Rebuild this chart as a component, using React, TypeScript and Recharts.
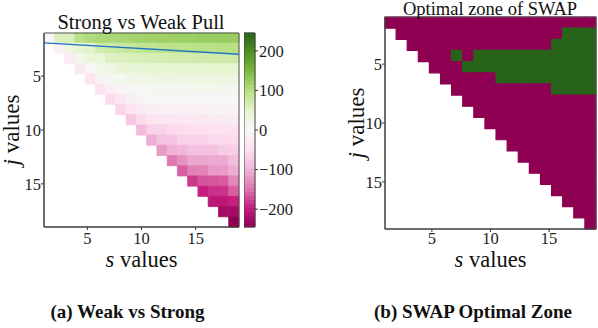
import React from 'react';
import { ComposedChart, XAxis, YAxis, ReferenceArea, Line, Scatter, Label } from 'recharts';

// ---------- data ----------
const sTicks = [5, 10, 15];
const jTicks = [5, 10, 15];
const gridMin = 1;
const gridMax = 19;
const gridSize = 19;

// Strong vs Weak Pull: row r holds the values of columns r..18 (upper triangle)
const pullRows: number[][] = [
  [0, 60, 62, 95, 105, 108, 110, 112, 114, 116, 118, 120, 120, 122, 122, 124, 124, 125, 125],
  [-10, 30, 48, 52, 72, 76, 80, 84, 88, 90, 92, 94, 95, 96, 97, 98, 98, 99],
  [-25, 15, 38, 42, 58, 60, 62, 64, 66, 68, 70, 71, 72, 73, 74, 74, 75],
  [-35, 0, 18, 22, 40, 42, 44, 45, 46, 47, 48, 48, 49, 49, 50, 50],
  [-40, -8, 6, 10, 22, 24, 25, 26, 27, 28, 28, 29, 29, 30, 30],
  [-45, -20, -6, 4, 6, 8, 9, 10, 10, 11, 12, 12, 13, 14],
  [-55, -32, -15, -6, -5, -4, -4, -3, -3, -2, -2, -2, -1],
  [-62, -45, -28, -20, -18, -16, -15, -14, -13, -12, -12, -11],
  [-78, -55, -38, -36, -34, -33, -32, -30, -28, -27, -26],
  [-93, -66, -64, -55, -54, -50, -48, -46, -45, -44],
  [-105, -84, -82, -66, -65, -64, -58, -57, -56],
  [-120, -100, -98, -86, -85, -84, -72, -70],
  [-145, -125, -110, -110, -108, -108, -90],
  [-160, -140, -138, -120, -118, -105],
  [-180, -165, -164, -162, -135],
  [-195, -185, -184, -160],
  [-205, -204, -195],
  [-225, -224],
  [-245],
];
const pullLimit = 245;
const colorbarTicks = [-200, -100, 0, 100, 200];
const fitLine = [
  { s: 1, j: 1.92 },
  { s: 19, j: 2.97 },
];

// Optimal zone of SWAP: row r holds columns r..18, '1' = optimal (green)
const swapRows: string[] = [
  '0000000000000000000',
  '000000000000000111',
  '00000000000001111',
  '0001011111111111',
  '000111111111111',
  '00000111111111',
  '0000000001111',
  '000000000000',
  '00000000000',
  '0000000000',
  '000000000',
  '00000000',
  '0000000',
  '000000',
  '00000',
  '0000',
  '000',
  '00',
  '0',
];

// ---------- styling helpers ----------
const FONT = "'Liberation Serif', 'Times New Roman', serif";
const piygStops = [
  [142, 1, 82], [197, 27, 125], [222, 119, 174], [241, 182, 218], [253, 224, 239],
  [247, 247, 247], [230, 245, 208], [184, 225, 134], [127, 188, 65], [77, 146, 33], [39, 100, 25],
];
function piyg(v: number): string {
  let t = 0.5 + v / (2 * pullLimit);
  t = Math.max(0, Math.min(1, t));
  const p = t * 10;
  const i = Math.min(9, Math.floor(p));
  const f = p - i;
  const a = piygStops[i];
  const b = piygStops[i + 1];
  const c = a.map((x, k) => Math.round(x + (b[k] - x) * f));
  return `rgb(${c[0]},${c[1]},${c[2]})`;
}
const edge = (k: number) => gridMin + (k * (gridMax - gridMin)) / gridSize;
const SWAP_NO = '#8e0152';
const SWAP_YES = '#276419';

const tickStyle = { fontFamily: FONT, fontSize: 16.5, fill: '#222' };
const fmtMinus = (v: number) => (v < 0 ? '\u2212' + Math.abs(v) : String(v));
const Hidden = () => <g />;

const AxisTitle = (props: any) => {
  const { viewBox, letter, vertical, offset } = props;
  if (!viewBox) return null;
  if (vertical) {
    const x = viewBox.x + offset;
    const y = viewBox.y + viewBox.height / 2;
    return (
      <text x={x} y={y} transform={`rotate(-90 ${x} ${y})`} textAnchor="middle" fontFamily={FONT} fontSize={23} fill="#111">
        <tspan fontStyle="italic">{letter}</tspan> values
      </text>
    );
  }
  const x = viewBox.x + viewBox.width / 2;
  const y = viewBox.y + offset;
  return (
    <text x={x} y={y} textAnchor="middle" fontFamily={FONT} fontSize={22.5} fill="#111">
      <tspan fontStyle="italic">{letter}</tspan> values
    </text>
  );
};

// cell centres (used as chart data)
const pullCentres: { s: number; j: number }[] = [];
pullRows.forEach((row, r) => row.forEach((_v, i) => pullCentres.push({ s: (edge(r + i) + edge(r + i + 1)) / 2, j: (edge(r) + edge(r + 1)) / 2 })));
const swapCentres: { s: number; j: number }[] = [];
swapRows.forEach((row, r) => row.split('').forEach((_c, i) => swapCentres.push({ s: (edge(r + i) + edge(r + i + 1)) / 2, j: (edge(r) + edge(r + 1)) / 2 })));
const bandCount = 49;
const bandMids: { x: number; v: number }[] = [];
for (let k = 0; k < bandCount; k++) bandMids.push({ x: 0.5, v: -pullLimit + ((k + 0.5) * 2 * pullLimit) / bandCount });

function pullCells() {
  const out: any[] = [];
  pullRows.forEach((row, r) => {
    row.forEach((v, i) => {
      const c = r + i;
      const col = piyg(v);
      out.push(
        <ReferenceArea key={`p${r}-${c}`} x1={edge(c)} x2={edge(c + 1)} y1={edge(r)} y2={edge(r + 1)}
          fill={col} fillOpacity={1} stroke={col} strokeWidth={0.8} ifOverflow="visible" />
      );
    });
  });
  return out;
}

function swapCells() {
  const out: any[] = [];
  swapRows.forEach((row, r) => {
    row.split('').forEach((ch, i) => {
      const c = r + i;
      const col = ch === '1' ? SWAP_YES : SWAP_NO;
      out.push(
        <ReferenceArea key={`w${r}-${c}`} x1={edge(c)} x2={edge(c + 1)} y1={edge(r)} y2={edge(r + 1)}
          fill={col} fillOpacity={1} stroke={col} strokeWidth={1.2} ifOverflow="visible" />
      );
    });
  });
  return out;
}

function colorbarBands() {
  return bandMids.map((b, k) => {
    const half = pullLimit / bandCount;
    const col = piyg(b.v);
    return (
      <ReferenceArea key={`cb${k}`} x1={0} x2={1} y1={b.v - half} y2={b.v + half} fill={col} fillOpacity={1} stroke={col} strokeWidth={0.8} ifOverflow="visible" />
    );
  });
}

export default function App() {
  return (
    <div style={{ position: 'absolute', left: 0, top: 0, width: 598, height: 328, background: '#fff', overflow: 'hidden' }}>
      {/* left heatmap */}
      <div style={{ position: 'absolute', left: 0, top: 0 }}>
        <ComposedChart width={250} height={280} data={pullCentres} margin={{ top: 33, right: 11, bottom: 8, left: 0 }}>
          <XAxis dataKey="s" type="number" domain={[gridMin, gridMax]} ticks={sTicks} allowDataOverflow
            height={45} tick={tickStyle} tickSize={3} tickMargin={2} stroke="#333">
            <Label content={(p: any) => <AxisTitle {...p} letter="s" offset={40} />} />
          </XAxis>
          <YAxis type="number" domain={[gridMin, gridMax]} ticks={jTicks} reversed allowDataOverflow
            width={44} tick={tickStyle} tickSize={3} tickMargin={0} stroke="#333">
            <Label content={(p: any) => <AxisTitle {...p} letter="j" vertical offset={19} />} />
          </YAxis>
          {pullCells()}
          <ReferenceArea x1={gridMin} x2={gridMax} y1={gridMin} y2={gridMax} fill="none" stroke="#555" strokeWidth={1} ifOverflow="visible" />
          <Scatter dataKey="j" shape={<Hidden />} isAnimationActive={false} />
          <Line data={fitLine} dataKey="j" stroke="#1f74c4" strokeWidth={1.4} dot={false} isAnimationActive={false} />
        </ComposedChart>
      </div>

      {/* colorbar */}
      <div style={{ position: 'absolute', left: 244, top: 0 }}>
        <ComposedChart width={60} height={280} data={bandMids} margin={{ top: 33, right: 5, bottom: 53, left: 0 }}>
          <XAxis dataKey="x" type="number" domain={[0, 1]} hide />
          <YAxis orientation="right" type="number" domain={[-pullLimit, pullLimit]} ticks={colorbarTicks} allowDataOverflow
            width={44} tick={tickStyle} tickSize={3} tickMargin={1} tickFormatter={fmtMinus} stroke="#333" axisLine={false} />
          {colorbarBands()}
          <ReferenceArea x1={0} x2={1} y1={-pullLimit} y2={pullLimit} fill="none" stroke="#444" strokeWidth={1} ifOverflow="visible" />
          <Scatter dataKey="v" shape={<Hidden />} isAnimationActive={false} />
        </ComposedChart>
      </div>

      {/* right heatmap */}
      <div style={{ position: 'absolute', left: 340, top: 0 }}>
        <ComposedChart width={258} height={280} data={swapCentres} margin={{ top: 17, right: 2, bottom: 6, left: 0 }}>
          <XAxis dataKey="s" type="number" domain={[gridMin, gridMax]} ticks={sTicks} allowDataOverflow
            height={45} tick={tickStyle} tickSize={3} tickMargin={0} stroke="#333">
            <Label content={(p: any) => <AxisTitle {...p} letter="s" offset={38} />} />
          </XAxis>
          <YAxis type="number" domain={[gridMin, gridMax]} ticks={jTicks} reversed allowDataOverflow
            width={45} tick={tickStyle} tickSize={3} tickMargin={0} stroke="#333">
            <Label content={(p: any) => <AxisTitle {...p} letter="j" vertical offset={24} />} />
          </YAxis>
          {swapCells()}
          <ReferenceArea x1={gridMin} x2={gridMax} y1={gridMin} y2={gridMax} fill="none" stroke="#555" strokeWidth={1} ifOverflow="visible" />
          <Scatter dataKey="j" shape={<Hidden />} isAnimationActive={false} />
        </ComposedChart>
      </div>

      {/* titles & captions */}
      <svg width={598} height={328} style={{ position: 'absolute', left: 0, top: 0, pointerEvents: 'none' }}>
        <text x={141} y={29} textAnchor="middle" fontFamily={FONT} fontSize={20.5} fill="#111">Strong vs Weak Pull</text>
        <text x={490} y={15} textAnchor="middle" fontFamily={FONT} fontSize={18.5} fill="#111">Optimal zone of SWAP</text>
        <text x={127.5} y={318} textAnchor="middle" fontFamily={FONT} fontSize={19} fontWeight="bold" fill="#111">(a) Weak vs Strong</text>
        <text x={473} y={318} textAnchor="middle" fontFamily={FONT} fontSize={19} fontWeight="bold" fill="#111">(b) SWAP Optimal Zone</text>
      </svg>
    </div>
  );
}
